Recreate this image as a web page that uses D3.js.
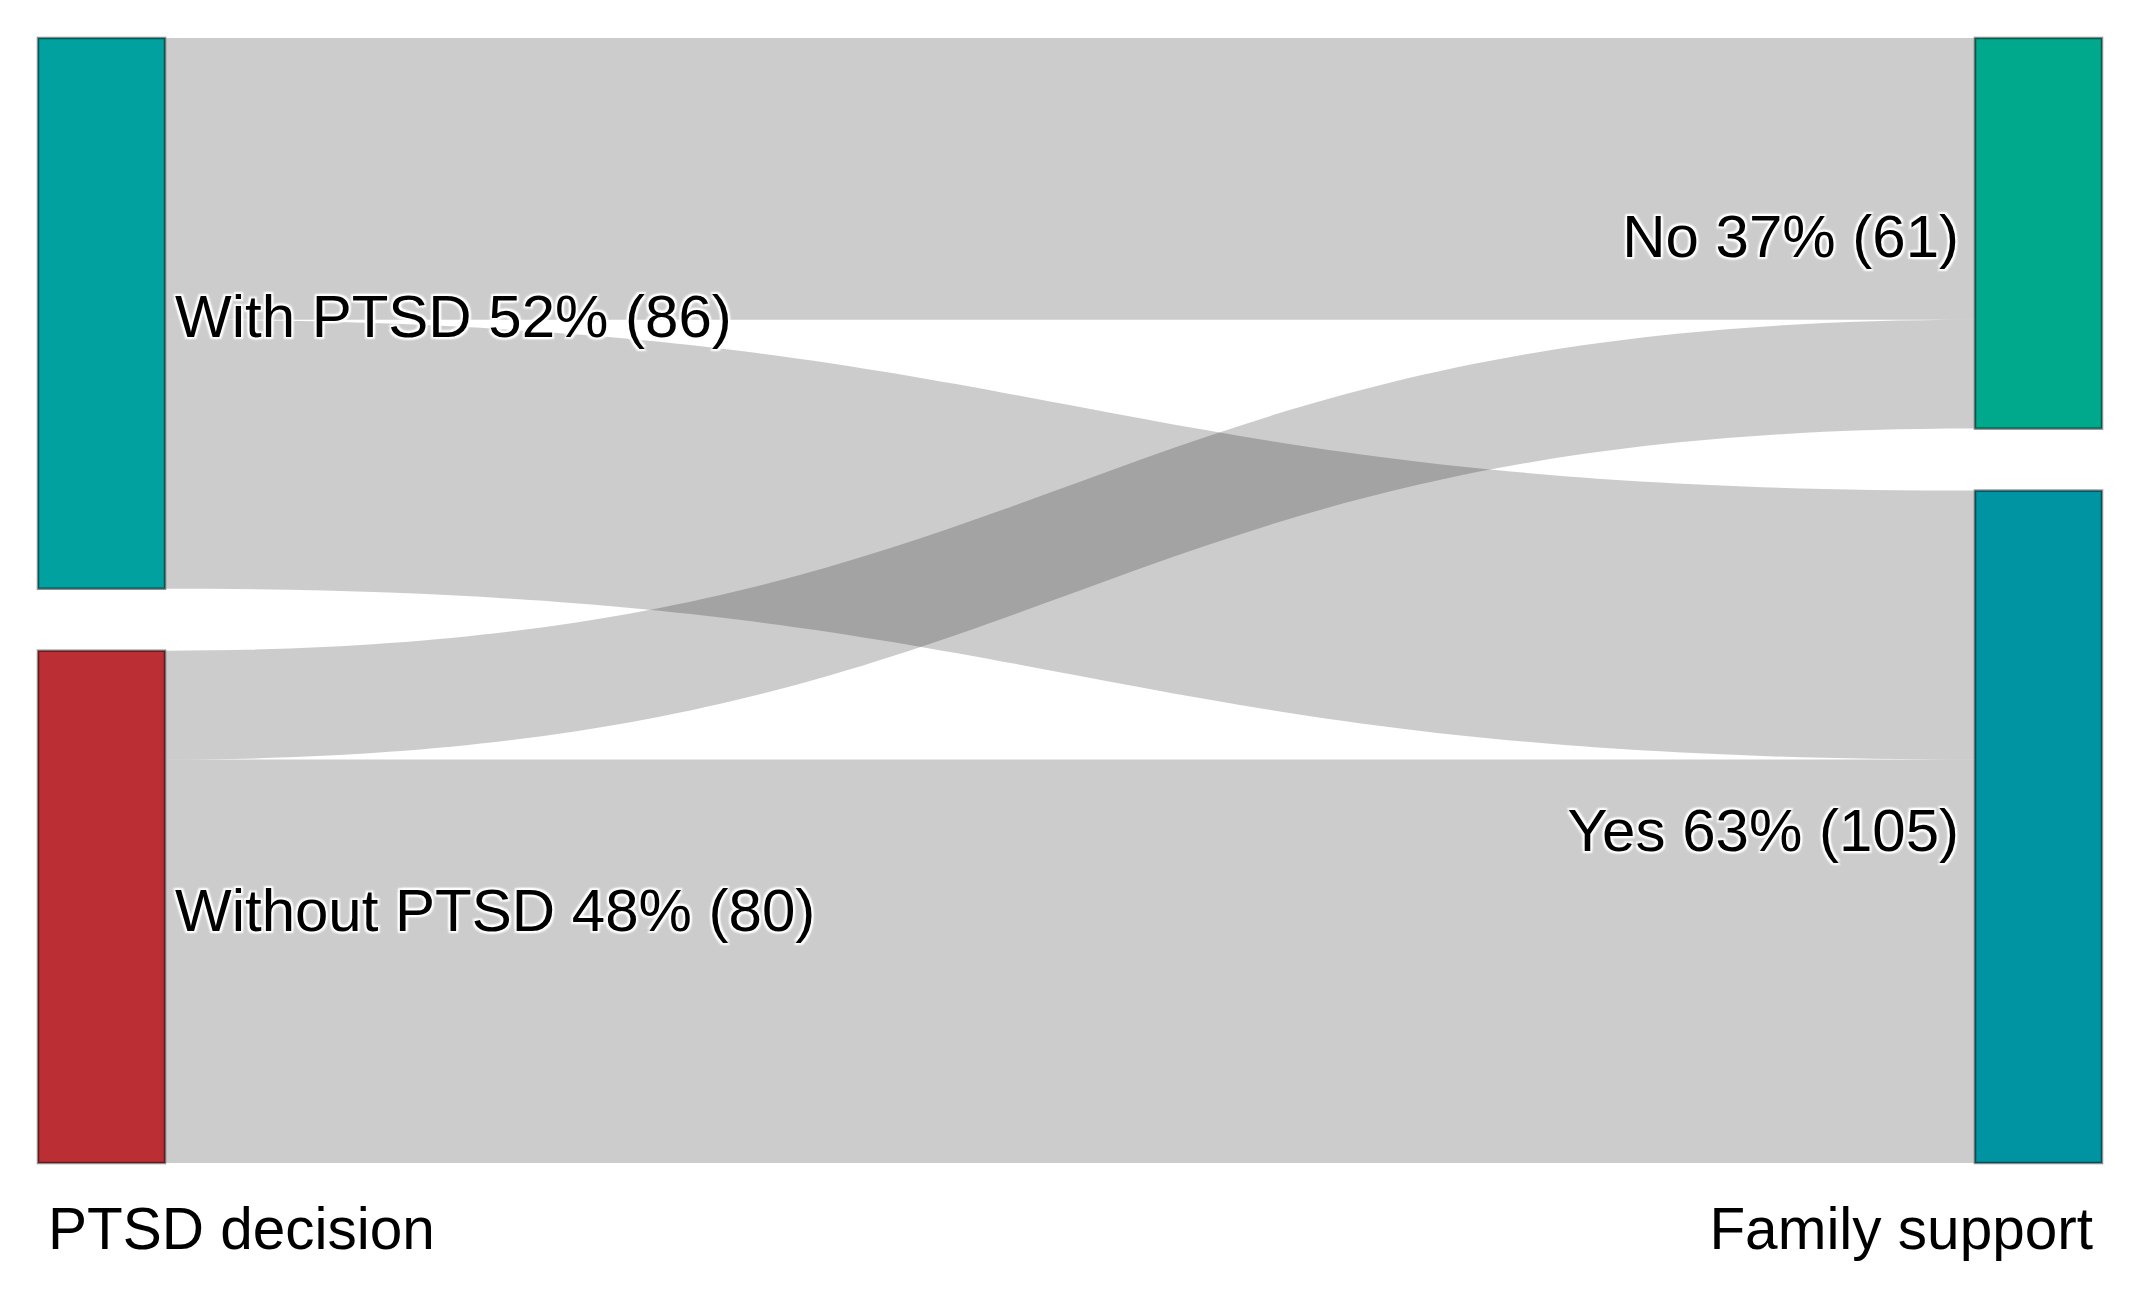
<!DOCTYPE html>
<html>
<head>
<meta charset="utf-8">
<script src="https://cdn.jsdelivr.net/npm/d3@7"></script>
<style>
  html, body { margin: 0; padding: 0; background: #fff; }
  svg { display: block; }
  .nodelabel {
    font-family: "Liberation Sans", Arial, sans-serif;
    fill: #000;
    text-shadow: 2px 2px 2px #fff, -2px -2px 2px #fff, 2px -2px 2px #fff, -2px 2px 2px #fff;
  }
  .coltitle { font-family: "Liberation Sans", Arial, sans-serif; fill: #000; }
</style>
</head>
<body>
<div id="chart"></div>
<script>
// columns (stages) and nodes
var columnTitles = ["PTSD decision", "Family support"];
var leftNodes = ["With PTSD", "Without PTSD"];
var rightNodes = ["No", "Yes"];

// links: source (left node) -> target (right node)
var linkSource = ["With PTSD", "With PTSD", "Without PTSD", "Without PTSD"];
var linkTarget = ["No", "Yes", "No", "Yes"];
var linkValue = [44, 42, 17, 63];

var nodeColor = {
  "With PTSD": "#00a19f",
  "Without PTSD": "#bb2e34",
  "No": "#00a98c",
  "Yes": "#0093a1"
};

var W = 2131, H = 1295;
var plotTop = 38, plotBottom = 1163, nodeW = 127, pad = 62;

var svg = d3.select("#chart").append("svg")
  .attr("width", W).attr("height", H);

var total = d3.sum(linkValue);
var x = d3.scaleLinear().domain([0, 1]).range([38, 1975]);
var k = d3.scaleLinear().domain([0, total]).range([0, (plotBottom - plotTop) - pad]);

// build nodes
var nodes = {};
[leftNodes, rightNodes].forEach(function(col, ci){
  var y = plotTop;
  col.forEach(function(name){
    var vin = d3.sum(linkValue.filter(function(v, i){ return linkTarget[i] === name; }));
    var vout = d3.sum(linkValue.filter(function(v, i){ return linkSource[i] === name; }));
    var v = Math.max(vin, vout);
    nodes[name] = {name: name, col: ci, value: v, x0: x(ci), x1: x(ci) + nodeW, y0: y, y1: y + k(v), outY: y, inY: y};
    y += k(v) + pad;
  });
});

// links
var links = linkValue.map(function(v, i){
  var s = nodes[linkSource[i]], t = nodes[linkTarget[i]];
  var l = {value: v, x0: s.x1, x1: t.x0, y0t: s.outY, y1t: t.inY};
  s.outY += k(v); t.inY += k(v);
  l.y0b = s.outY; l.y1b = t.inY;
  return l;
});

function linkPath(l){
  var p = d3.path(), xm = (l.x0 + l.x1) / 2;
  p.moveTo(l.x0, l.y0t);
  p.bezierCurveTo(xm, l.y0t, xm, l.y1t, l.x1, l.y1t);
  p.lineTo(l.x1, l.y1b);
  p.bezierCurveTo(xm, l.y1b, xm, l.y0b, l.x0, l.y0b);
  p.closePath();
  return p.toString();
}

svg.append("g").selectAll("path")
  .data(links).enter().append("path")
  .attr("d", linkPath)
  .attr("fill", "rgba(0,0,0,0.2)");

var nodeList = Object.keys(nodes).map(function(n){ return nodes[n]; });

svg.append("g").selectAll("rect")
  .data(nodeList).enter().append("rect")
  .attr("x", function(d){ return d.x0; })
  .attr("y", function(d){ return d.y0; })
  .attr("width", nodeW)
  .attr("height", function(d){ return d.y1 - d.y0; })
  .attr("fill", function(d){ return nodeColor[d.name]; })
  .attr("stroke", "rgba(0,0,0,0.45)")
  .attr("stroke-width", 2.5);

var pct = d3.format(".0%");
svg.append("g").selectAll("text")
  .data(nodeList).enter().append("text")
  .attr("class", "nodelabel")
  .attr("x", function(d){ return d.col === 0 ? d.x1 + 10 : d.x0 - 16; })
  .attr("y", function(d){ return (d.y0 + d.y1) / 2; })
  .attr("dy", "0.4em")
  .attr("text-anchor", function(d){ return d.col === 0 ? "start" : "end"; })
  .style("font-size", "60px")
  .text(function(d){ return d.name + " " + pct(d.value / total) + " (" + d.value + ")"; });

svg.append("text").attr("class", "coltitle")
  .attr("x", 48).attr("y", 1249)
  .style("font-size", "58.5px")
  .text(columnTitles[0]);

svg.append("text").attr("class", "coltitle")
  .attr("x", 2093).attr("y", 1249)
  .attr("text-anchor", "end")
  .style("font-size", "58.5px")
  .text(columnTitles[1]);
</script>
</body>
</html>
